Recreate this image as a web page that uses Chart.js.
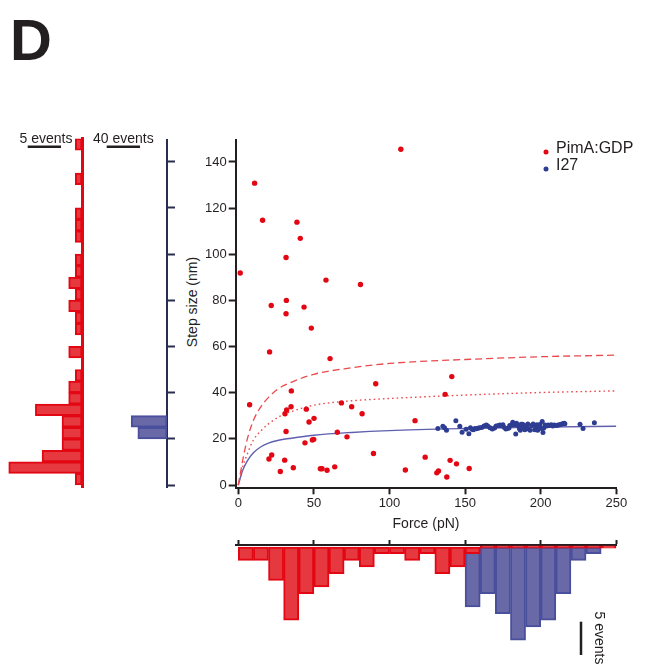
<!DOCTYPE html>
<html><head><meta charset="utf-8">
<script src="https://cdn.jsdelivr.net/npm/chart.js@4.4.1/dist/chart.umd.min.js"></script>
<style>
html,body{margin:0;padding:0;background:#fff;}
body{width:650px;height:669px;position:relative;overflow:hidden;font-family:"Liberation Sans",Arial,sans-serif;}
canvas{position:absolute;}
.lbl{position:absolute;color:#231f20;white-space:nowrap;}
</style></head><body>
<div class="lbl" style="left:10px;top:11px;font-size:58px;line-height:58px;font-weight:bold;">D</div>
<div class="lbl" style="left:191.7px;top:301.7px;font-size:14px;line-height:14px;transform:translate(-50%,-50%) rotate(-90deg);">Step size (nm)</div>
<canvas id="redHist" width="90" height="370" style="left:0px;top:120px;"></canvas>
<canvas id="blueHist" width="90" height="370" style="left:90px;top:120px;"></canvas>
<canvas id="main" width="480" height="450" style="left:170px;top:100px;"></canvas>
<canvas id="forceHist" width="480" height="139" style="left:170px;top:530px;"></canvas>
<script>
// ---------- data ----------
const pimaForce = [107.5,10.8,16.1,38.8,41.0,31.6,1.3,58.0,80.8,21.8,31.8,43.5,31.6,48.3,20.7,60.7,90.9,141.2,136.8,7.5,35.1,34.9,32.0,30.9,45.0,68.2,75.0,81.9,50.1,46.8,116.9,31.6,65.5,71.9,49.9,49.0,44.1,22.1,20.3,30.7,89.4,123.6,140.1,144.3,36.4,27.8,54.3,55.4,58.7,63.8,110.5,152.7,131.3,132.4,137.9];
const pimaStep  = [145.5,130.8,114.7,113.9,106.9,98.6,91.9,88.8,86.9,77.8,80.0,77.1,74.2,68.0,57.7,54.8,43.9,47.0,39.3,34.8,40.8,33.9,32.5,30.9,32.9,35.6,33.9,30.9,28.9,27.3,27.9,23.2,22.9,20.9,19.8,19.5,18.3,13.0,11.3,10.8,13.7,12.1,10.7,9.2,7.5,5.9,7.1,7.1,6.4,7.9,6.5,7.2,5.3,6.1,3.5];

const i27Force = [132,135.3,136.4,137.7,143.9,146.5,148,
  150.7,152.5,153.5,154.6,155.5,156.5,157.5,158.5,159.5,
  161,162.5,164,165,166.5,168,169.5,
  170.5,172,173,174,175,176,177,178,179,179.5,
  180.5,181.5,182.5,183.5,184,185,186,186.5,187,187.5,188,188.5,189,189.5,
  190.5,191.5,192,193,194,195,196,197,197.5,198,199,199.5,
  200.5,201,201.5,202,203,204,205,206,207,208,209,
  210.5,211.5,212.5,213.5,214.5,215.5,216,
  226,228,235.5];
const i27Step = [24.5,25.5,24.8,23.8,27.9,25.5,22.9,
  24.2,22.2,24.8,24.2,24.0,24.5,24.4,24.6,24.8,
  24.9,25.6,26.0,25.6,24.8,24.3,24.7,
  25.6,25.8,26.0,25.7,26.1,24.9,24.3,24.5,24.7,25.8,
  26.0,27.2,26.1,22.1,26.8,25.7,24.4,23.8,26.4,24.9,26.3,24.7,25.9,24.0,
  25.5,26.5,24.3,23.8,25.8,26.5,24.0,24.9,26.1,23.8,24.8,26.2,
  24.5,27.5,22.8,24.7,26.0,25.6,26.0,25.8,26.1,25.6,26.0,
  25.8,26.0,26.1,26.4,26.6,26.8,26.6,
  26.4,24.5,27.0];

// fitted curves as drawn in the figure (values read at these forces)
const curveForce  = [0,1.5,3,6,10,15,20,26,35,50,75,100,150,200,250];
const dashedStep  = [0,5.5,11,20,28,34,38,41.5,44.5,48,50.8,52.7,54.4,55.6,56.3];
const dottedStep  = [0,4,8,13.5,19.5,23.5,26.5,29.2,31.8,34.6,36.5,37.5,39.0,40.1,40.8];
const solidStep   = [0,3.5,6.5,10.5,14,16.6,18.2,19.3,20.3,21.6,22.8,23.6,24.5,25.1,25.5];

// step-size histograms (5 nm bins)
const stepBinCenters = [2.5,7.5,12.5,17.5,22.5,27.5,32.5,37.5,42.5,47.5,52.5,57.5,62.5,67.5,72.5,77.5,82.5,87.5,92.5,97.5,102.5,107.5,112.5,117.5,122.5,127.5,132.5,137.5,142.5,147.5];
const pimaStepCounts = [1,11,6,3,3,3,7,2,2,1,0,2,0,1,1,2,1,2,1,1,0,1,1,1,0,0,1,0,0,1];
const i27StepCounts  = [0,0,0,0,35,43,0,0,0,0,0,0,0,0,0,0,0,0,0,0,0,0,0,0,0,0,0,0,0,0];

// force histograms (10 pN bins)
const forceBinCenters = [5,15,25,35,45,55,65,75,85,95,105,115,125,135,145,155,165,175,185,195,205,215,225,235,245];
const pimaForceCounts = [2,2,5,11,7,6,4,2,3,1,1,2,1,4,3,1,0,0,0,0,0,0,0,0,0];
const i27ForceCounts  = [0,0,0,0,0,0,0,0,0,0,0,0,0,0,0,9,7,10,14,12,11,7,2,1,0];

const seriesNames = ['PimA:GDP','I27'];
const xTickValues = [0,50,100,150,200,250];
const yTickValues = [0,20,40,60,80,100,120,140];

// ---------- styling ----------
const FONT = '"Liberation Sans", Arial, Helvetica, sans-serif';
const INK = '#231f20';
const RED = '#e30613', RED_FILL = '#e6393f', RED_LINE = '#ea4a4d';
const BLUE = '#2e3d92', BLUE_FILL = '#6a69a8', BLUE_EDGE = '#4a4f9c', BLUE_LINE = '#5f5fae';
const NAVY = '#2a2d4e';
Chart.defaults.font.family = FONT;
Chart.defaults.color = INK;

const zip = (xs, ys) => xs.map((x, i) => ({x: x, y: ys[i]}));
const binsY = (c, n) => c.map((v, i) => ({y: v, x: n[i]}));
const binsX = (c, n) => c.map((v, i) => ({x: v, y: n[i]}));
const setTicks = vals => function (s) { s.ticks = vals.map(v => ({value: v})); };

const legendPlugin = {
  id: 'miniLegend',
  afterDraw(chart, args, o) {
    const ctx = chart.ctx; ctx.save();
    ctx.font = '16px ' + FONT; ctx.textBaseline = 'middle'; ctx.textAlign = 'left';
    o.items.forEach((di, i) => {
      const ds = chart.data.datasets[di];
      const y = o.y + i * o.gap;
      ctx.fillStyle = ds.backgroundColor;
      ctx.beginPath(); ctx.arc(o.x, y + 3, 2.5, 0, Math.PI * 2); ctx.fill();
      ctx.fillStyle = INK;
      ctx.fillText(ds.label, o.x + 10, y);
    });
    ctx.restore();
  }
};

const scaleBarPlugin = {
  id: 'scaleBar',
  afterDraw(chart, args, o) {
    if (!o || !o.axis) return;
    const s = chart.scales[o.axis];
    const len = Math.abs(s.getPixelForValue(o.events) - s.getPixelForValue(0));
    const ctx = chart.ctx; ctx.save();
    ctx.strokeStyle = INK; ctx.lineWidth = 2.5; ctx.fillStyle = INK;
    ctx.font = '14px ' + FONT;
    ctx.beginPath();
    if (o.vertical) {
      ctx.moveTo(o.x, o.y); ctx.lineTo(o.x, o.y + len); ctx.stroke();
      ctx.translate(o.tx, o.ty); ctx.rotate(Math.PI / 2);
      ctx.textAlign = 'center'; ctx.textBaseline = 'middle';
      ctx.fillText(o.text, 0, 0);
    } else {
      ctx.moveTo(o.x, o.y); ctx.lineTo(o.x + len, o.y); ctx.stroke();
      ctx.textAlign = 'center'; ctx.textBaseline = 'alphabetic';
      ctx.fillText(o.text, o.tx, o.ty);
    }
    ctx.restore();
  }
};

const base = {responsive: false, animation: false, events: [], devicePixelRatio: 1};

// ---------- main scatter ----------
new Chart(document.getElementById('main'), {
  type: 'scatter',
  data: {datasets: [
    {label: seriesNames[0], data: zip(pimaForce, pimaStep), backgroundColor: RED, borderWidth: 0, pointRadius: 2.7},
    {label: seriesNames[1], data: zip(i27Force, i27Step), backgroundColor: BLUE, borderWidth: 0, pointRadius: 2.5},
    {type: 'line', data: zip(curveForce, dashedStep), borderColor: RED_LINE, borderWidth: 1.3, borderDash: [7, 4], pointRadius: 0, cubicInterpolationMode: 'monotone', fill: false},
    {type: 'line', data: zip(curveForce, dottedStep), borderColor: RED_LINE, borderWidth: 1.4, borderDash: [1.6, 3], pointRadius: 0, cubicInterpolationMode: 'monotone', fill: false},
    {type: 'line', data: zip(curveForce, solidStep), borderColor: BLUE_LINE, borderWidth: 1.4, pointRadius: 0, cubicInterpolationMode: 'monotone', fill: false}
  ]},
  options: Object.assign({}, base, {
    layout: {padding: {left: 0, right: 33.7, top: 40, bottom: 17.7}},
    plugins: {legend: {display: false}, tooltip: {enabled: false},
      miniLegend: {items: [0, 1], x: 376, y: 49, gap: 17}},
    scales: {
      x: {type: 'linear', min: -1.7, max: 250, offset: false,
        afterBuildTicks: setTicks(xTickValues),
        ticks: {font: {size: 13}, color: INK, padding: 1, maxRotation: 0},
        grid: {drawOnChartArea: false, drawTicks: true, tickLength: 6, tickWidth: 2, tickColor: INK},
        border: {display: true, color: INK, width: 2},
        title: {display: true, text: 'Force (pN)', font: {size: 14}, color: INK, padding: 0},
        afterFit(s) { s.height = 44; }},
      y: {type: 'linear', min: -1.4, max: 149.5, offset: false,
        afterBuildTicks: setTicks(yTickValues),
        ticks: {font: {size: 13}, color: INK, padding: 2},
        grid: {drawOnChartArea: false, drawTicks: true, tickLength: 7, tickWidth: 2, tickColor: INK},
        border: {display: true, color: INK, width: 2},
        afterFit(s) { s.width = 65.7; }}
    }
  }),
  plugins: [legendPlugin]
});

// ---------- left: PimA step histogram ----------
new Chart(document.getElementById('redHist'), {
  type: 'bar',
  data: {datasets: [{data: binsY(stepBinCenters, pimaStepCounts), backgroundColor: RED_FILL, borderColor: RED, borderWidth: 2, borderSkipped: false, barPercentage: 1, categoryPercentage: 1}]},
  options: Object.assign({}, base, {
    indexAxis: 'y',
    layout: {padding: {left: 0, right: 8, top: 18.5, bottom: 2.69}},
    plugins: {legend: {display: false}, tooltip: {enabled: false},
      scaleBar: {axis: 'x', events: 5, x: 27.7, y: 26.7, text: '5 events', tx: 46, ty: 23}},
    scales: {
      x: {type: 'linear', reverse: true, min: 0, max: 12.31, display: false, offset: false},
      y: {type: 'linear', position: 'right', min: -1, max: 150, z: 1, offset: false,
        afterBuildTicks: setTicks(yTickValues),
        ticks: {display: false},
        grid: {drawOnChartArea: false, drawTicks: false, offset: false},
        border: {display: true, color: RED, width: 3},
        afterFit(s) { s.width = 0; }}
    }
  }),
  plugins: [scaleBarPlugin]
});

// ---------- left: I27 step histogram ----------
new Chart(document.getElementById('blueHist'), {
  type: 'bar',
  data: {datasets: [{data: binsY(stepBinCenters, i27StepCounts), backgroundColor: BLUE_FILL, borderColor: BLUE_EDGE, borderWidth: 2, borderSkipped: false, barPercentage: 1, categoryPercentage: 1}]},
  options: Object.assign({}, base, {
    indexAxis: 'y',
    layout: {padding: {left: 30, right: 5, top: 19.9, bottom: 2.69}},
    plugins: {legend: {display: false}, tooltip: {enabled: false},
      scaleBar: {axis: 'x', events: 40, x: 16.7, y: 26.7, text: '40 events', tx: 33.3, ty: 23}},
    scales: {
      x: {type: 'linear', reverse: true, min: 0, max: 56.4, display: false, offset: false},
      y: {type: 'linear', position: 'right', min: -1, max: 149.4, offset: false,
        afterBuildTicks: setTicks(yTickValues),
        ticks: {display: false},
        grid: {drawOnChartArea: false, drawTicks: true, tickLength: 8, tickWidth: 2, tickColor: NAVY, offset: false},
        border: {display: true, color: NAVY, width: 2},
        afterFit(s) { s.width = 8; }}
    }
  }),
  plugins: [scaleBarPlugin]
});

// ---------- bottom: force histograms ----------
new Chart(document.getElementById('forceHist'), {
  type: 'bar',
  data: {datasets: [
    {data: binsX(forceBinCenters, pimaForceCounts), backgroundColor: RED_FILL, borderColor: RED, borderWidth: 2, borderSkipped: false, minBarLength: 2.5, grouped: false, barPercentage: 1, categoryPercentage: 1},
    {data: binsX(forceBinCenters, i27ForceCounts), backgroundColor: BLUE_FILL, borderColor: BLUE_EDGE, borderWidth: 2, borderSkipped: false, grouped: false, barPercentage: 1, categoryPercentage: 1}
  ]},
  options: Object.assign({}, base, {
    layout: {padding: {left: 65.7, right: 33.7, top: 9, bottom: 15.4}},
    plugins: {legend: {display: false}, tooltip: {enabled: false},
      scaleBar: {axis: 'y', events: 5, vertical: true, x: 411, y: 91.7, text: '5 events', tx: 429, ty: 108}},
    scales: {
      x: {type: 'linear', position: 'top', min: -1.7, max: 250, z: 1, offset: false,
        afterBuildTicks: setTicks(xTickValues),
        ticks: {display: false},
        grid: {drawOnChartArea: false, drawTicks: true, tickLength: 5, tickWidth: 2, tickColor: INK, offset: false},
        border: {display: true, color: INK, width: 2},
        afterFit(s) { s.height = 6; }},
      y: {type: 'linear', reverse: true, min: -0.3, max: 16, display: false, offset: false}
    }
  }),
  plugins: [scaleBarPlugin]
});
</script>
</body></html>
